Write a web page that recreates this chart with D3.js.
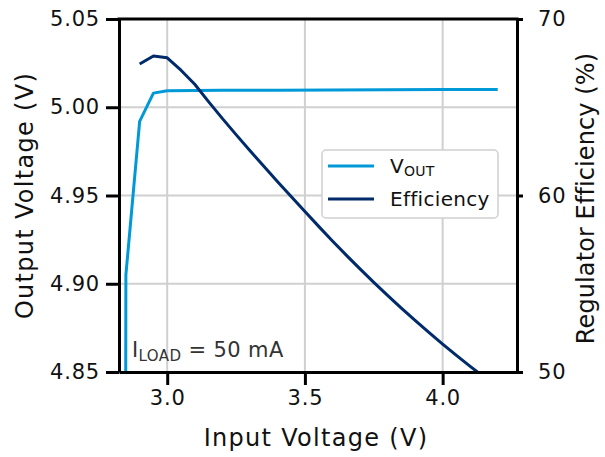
<!DOCTYPE html>
<html><head><meta charset="utf-8">
<script src="https://cdn.jsdelivr.net/npm/d3@7"></script>
<style>
body{margin:0;background:#fff;}
text{font-family:"DejaVu Sans",sans-serif;}
</style></head>
<body><svg id="c" width="605" height="457"></svg>
<script>
const voutVin = [2.848, 2.85, 2.90, 2.95, 3.00, 3.10, 3.20, 3.40, 3.60, 3.80, 4.00, 4.20];
const voutVal = [4.70, 4.905, 4.992, 5.008, 5.0093, 5.0095, 5.0096, 5.0097, 5.0098, 5.0099, 5.0100, 5.0101];
const effVin = [2.90, 2.95, 3.00, 3.05, 3.10, 3.15, 3.20, 3.25, 3.30, 3.35, 3.40, 3.45, 3.50, 3.55, 3.60, 3.65, 3.70, 3.75, 3.80, 3.85, 3.90, 3.95, 4.00, 4.05, 4.10, 4.15, 4.20];
const effVal = [67.45, 67.9, 67.8, 67.1, 66.3, 65.32, 64.37, 63.45, 62.55, 61.67, 60.8, 59.94, 59.09, 58.25, 57.42, 56.62, 55.84, 55.08, 54.34, 53.62, 52.92, 52.24, 51.58, 50.94, 50.32, 49.72, 49.14];
const xTicks = [3.0, 3.5, 4.0];
const yLeftTicks = [4.85, 4.90, 4.95, 5.00, 5.05];
const yRightTicks = [50, 60, 70];
const seriesNames = ["VOUT", "Efficiency"];

const L = 119, R = 517, T = 19, B = 372;
const FONT = "'DejaVu Sans',sans-serif";
const svg = d3.select("#c");
const x = d3.scaleLinear().domain([2.825, 4.27]).range([L, R]);
const yL = d3.scaleLinear().domain([4.85, 5.05]).range([B, T]);
const yR = d3.scaleLinear().domain([50, 70]).range([B, T]);
const cLight = "#0099d8", cDark = "#002b6b";

// grid
const g = svg.append("g");
g.selectAll(".gx").data(xTicks).join("line")
  .attr("x1", d => x(d)).attr("x2", d => x(d)).attr("y1", T).attr("y2", B)
  .attr("stroke", "#d0d0d0").attr("stroke-width", 2);
g.selectAll(".gy").data(yLeftTicks.slice(1, -1)).join("line")
  .attr("y1", d => yL(d)).attr("y2", d => yL(d)).attr("x1", L).attr("x2", R)
  .attr("stroke", "#d0d0d0").attr("stroke-width", 2);

svg.append("defs").append("clipPath").attr("id", "clip")
  .append("rect").attr("x", L).attr("y", T).attr("width", R - L).attr("height", B - T);

const lv = d3.line().x((d, i) => x(voutVin[i])).y(d => yL(d));
const le = d3.line().x((d, i) => x(effVin[i])).y(d => yR(d));
const plot = svg.append("g").attr("clip-path", "url(#clip)");
plot.append("path").attr("d", lv(voutVal)).attr("fill", "none").attr("stroke", cLight).attr("stroke-width", 3).attr("stroke-linejoin", "round");
plot.append("path").attr("d", le(effVal)).attr("fill", "none").attr("stroke", cDark).attr("stroke-width", 3).attr("stroke-linejoin", "round");

// axes
function styleAxis(sel) {
  sel.select(".domain").attr("stroke", "#000").attr("stroke-width", 3);
  sel.selectAll(".tick line").attr("stroke", "#000").attr("stroke-width", 3);
  sel.selectAll(".tick text").attr("fill", "#111").style("font-size", "21px").style("font-family", FONT).style("letter-spacing", "0.8px");
}
const ax = svg.append("g").attr("transform", `translate(0,${B})`)
  .call(d3.axisBottom(x).tickValues(xTicks).tickFormat(d3.format(".1f")).tickSize(13).tickSizeOuter(0).tickPadding(5));
styleAxis(ax);
const al = svg.append("g").attr("transform", `translate(${L},0)`)
  .call(d3.axisLeft(yL).tickValues(yLeftTicks).tickFormat(d3.format(".2f")).tickSize(13).tickSizeOuter(0).tickPadding(6));
styleAxis(al);
const ar = svg.append("g").attr("transform", `translate(${R},0)`)
  .call(d3.axisRight(yR).tickValues(yRightTicks).tickFormat(d3.format("d")).tickSize(6).tickSizeOuter(0).tickPadding(15));
styleAxis(ar);
svg.append("line").attr("x1", L - 1.5).attr("x2", R + 1.5).attr("y1", T).attr("y2", T).attr("stroke", "#000").attr("stroke-width", 3);

// titles
svg.append("text").attr("x", 316).attr("y", 446).attr("text-anchor", "middle")
  .style("font-size", "24px").style("letter-spacing", "1.3px").attr("fill", "#111").text("Input Voltage (V)");
svg.append("text").attr("transform", `translate(33,${(T + B) / 2}) rotate(-90)`).attr("text-anchor", "middle")
  .style("font-size", "24px").style("letter-spacing", "1.3px").attr("fill", "#111").text("Output Voltage (V)");
svg.append("text").attr("transform", `translate(594,${(T + B) / 2 + 3}) rotate(-90)`).attr("text-anchor", "middle")
  .style("font-size", "24px").style("letter-spacing", "0.1px").attr("fill", "#111").text("Regulator Efficiency (%)");

// annotation
const ann = svg.append("text").attr("x", 132).attr("y", 357).attr("fill", "#333").style("font-size", "21px").style("letter-spacing", "0.4px");
ann.append("tspan").text("I");
ann.append("tspan").attr("dy", 4).style("font-size", "15px").text("LOAD");
ann.append("tspan").attr("dy", -4).text(" = 50 mA");

// legend
const lg = svg.append("g");
lg.append("rect").attr("x", 322).attr("y", 150).attr("width", 176).attr("height", 68).attr("rx", 4)
  .attr("fill", "#fff").attr("stroke", "#d0d0d0").attr("stroke-width", 1.5);
const cols = [cLight, cDark];
seriesNames.forEach((n, i) => {
  const yy = 166 + i * 33;
  lg.append("line").attr("x1", 328).attr("x2", 374).attr("y1", yy).attr("y2", yy).attr("stroke", cols[i]).attr("stroke-width", 3);
  const t = lg.append("text").attr("x", 390).attr("y", yy + 7).attr("fill", "#111").style("font-size", "20px").style("letter-spacing", "0.3px");
  if (n === "VOUT") {
    t.append("tspan").text("V");
    t.append("tspan").attr("dy", 3).style("font-size", "14px").text("OUT");
  } else t.text(n);
});
</script></body></html>
